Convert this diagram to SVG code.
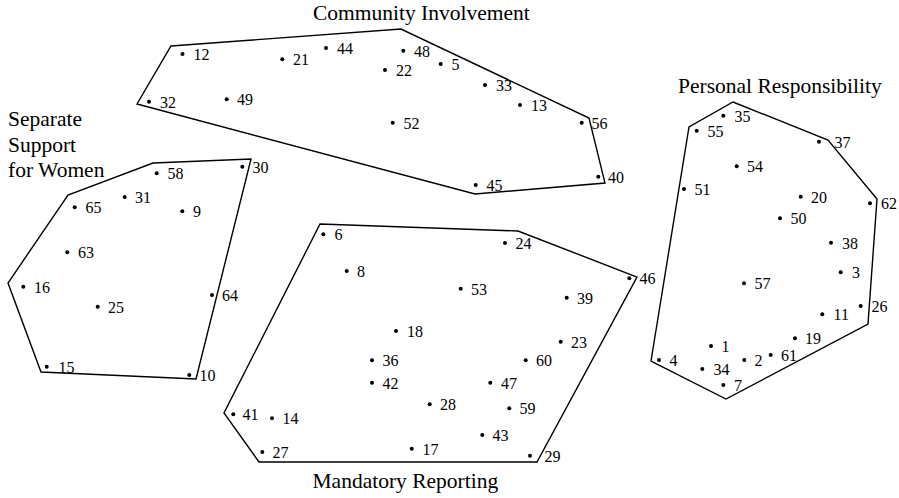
<svg xmlns="http://www.w3.org/2000/svg" width="899" height="498" viewBox="0 0 899 498">
<style>
.hull{fill:none;stroke:#000;stroke-width:1.4;stroke-linejoin:miter}
.d{fill:#000}
.l{font-family:"Liberation Serif","Times New Roman",serif;font-size:16px;fill:#000}
.t{font-family:"Liberation Serif","Times New Roman",serif;font-size:21.5px;fill:#000}
</style>
<rect width="899" height="498" fill="#fff"/>
<g id="community">
<polygon class="hull" points="171,46 401,29 589,118 605,183 475,194 137,104"/>
<text class="t" x="313" y="20">Community Involvement</text>
<g class="d"><circle cx="182.5" cy="54" r="2"/><circle cx="282.3" cy="59.3" r="2"/><circle cx="326" cy="48" r="2"/><circle cx="403.3" cy="50.7" r="2"/><circle cx="385" cy="70" r="2"/><circle cx="440.7" cy="64" r="2"/><circle cx="485" cy="85" r="2"/><circle cx="520" cy="105" r="2"/><circle cx="581.7" cy="122.7" r="2"/><circle cx="598.3" cy="176.7" r="2"/><circle cx="475.7" cy="185" r="2"/><circle cx="392.7" cy="122.7" r="2"/><circle cx="149" cy="101.7" r="2"/><circle cx="226.7" cy="99.3" r="2"/></g>
<text class="l" x="193.5" y="60">12</text><text class="l" x="293" y="65.3">21</text><text class="l" x="337" y="54">44</text><text class="l" x="414" y="56.7">48</text><text class="l" x="396" y="76">22</text><text class="l" x="451.5" y="70">5</text><text class="l" x="496" y="91">33</text><text class="l" x="531" y="111">13</text><text class="l" x="591.5" y="128.7">56</text><text class="l" x="608" y="182.7">40</text><text class="l" x="486.5" y="191">45</text><text class="l" x="403.5" y="128.7">52</text><text class="l" x="160" y="107.7">32</text><text class="l" x="237" y="105.3">49</text>
</g>
<g id="separate-support">
<polygon class="hull" points="153,163 251,159 196,379 41,372 8,283 68,195"/>
<text class="t" x="8" y="126">Separate</text>
<text class="t" x="8" y="151.5">Support</text>
<text class="t" x="8" y="177">for Women</text>
<g class="d"><circle cx="156.7" cy="173.3" r="2"/><circle cx="242.3" cy="166.7" r="2"/><circle cx="124.7" cy="197" r="2"/><circle cx="74.7" cy="207.3" r="2"/><circle cx="182.3" cy="211.3" r="2"/><circle cx="67.3" cy="252.3" r="2"/><circle cx="23.3" cy="286.7" r="2"/><circle cx="97.7" cy="306.7" r="2"/><circle cx="212" cy="295" r="2"/><circle cx="46.7" cy="366.7" r="2"/><circle cx="189.3" cy="375" r="2"/></g>
<text class="l" x="167.5" y="179.3">58</text><text class="l" x="252.5" y="172.7">30</text><text class="l" x="135" y="203">31</text><text class="l" x="85.5" y="213.3">65</text><text class="l" x="193" y="217.3">9</text><text class="l" x="78" y="258.3">63</text><text class="l" x="34" y="292.7">16</text><text class="l" x="108" y="312.7">25</text><text class="l" x="222" y="301">64</text><text class="l" x="58.5" y="372.7">15</text><text class="l" x="199.5" y="381">10</text>
</g>
<g id="mandatory-reporting">
<polygon class="hull" points="320,224 518,231 637,277 537,462 259,462 224,413"/>
<text class="t" x="312.5" y="488">Mandatory Reporting</text>
<g class="d"><circle cx="323.3" cy="234.3" r="2"/><circle cx="505" cy="243" r="2"/><circle cx="346.7" cy="271" r="2"/><circle cx="460.7" cy="288.7" r="2"/><circle cx="629.3" cy="278.3" r="2"/><circle cx="566.7" cy="297.7" r="2"/><circle cx="396" cy="331" r="2"/><circle cx="560.7" cy="341.7" r="2"/><circle cx="372" cy="360.3" r="2"/><circle cx="525.7" cy="360.3" r="2"/><circle cx="372" cy="382.7" r="2"/><circle cx="490.3" cy="382.7" r="2"/><circle cx="429.7" cy="404.3" r="2"/><circle cx="509.3" cy="408.3" r="2"/><circle cx="233.3" cy="414.3" r="2"/><circle cx="272" cy="418.3" r="2"/><circle cx="482.3" cy="435" r="2"/><circle cx="262.3" cy="452" r="2"/><circle cx="411.7" cy="448.7" r="2"/><circle cx="530" cy="455.7" r="2"/></g>
<text class="l" x="334.5" y="240.3">6</text><text class="l" x="515.5" y="249">24</text><text class="l" x="357" y="277">8</text><text class="l" x="471" y="294.7">53</text><text class="l" x="639.5" y="284.3">46</text><text class="l" x="577" y="303.7">39</text><text class="l" x="407" y="337">18</text><text class="l" x="571" y="347.7">23</text><text class="l" x="382.5" y="366.3">36</text><text class="l" x="536" y="366.3">60</text><text class="l" x="382.5" y="388.7">42</text><text class="l" x="501" y="388.7">47</text><text class="l" x="440" y="410.3">28</text><text class="l" x="519.5" y="414.3">59</text><text class="l" x="242.5" y="420.3">41</text><text class="l" x="282.5" y="424.3">14</text><text class="l" x="492.5" y="441">43</text><text class="l" x="272.5" y="458">27</text><text class="l" x="422.5" y="454.7">17</text><text class="l" x="544.5" y="461.7">29</text>
</g>
<g id="personal-responsibility">
<polygon class="hull" points="733,102 828,140 877,199 868,324 726,399 651,361 689,127"/>
<text class="t" x="678" y="93">Personal Responsibility</text>
<g class="d"><circle cx="723.3" cy="115.7" r="2"/><circle cx="696.7" cy="130.7" r="2"/><circle cx="819" cy="141.7" r="2"/><circle cx="736.7" cy="166.3" r="2"/><circle cx="684" cy="189" r="2"/><circle cx="800.7" cy="196.7" r="2"/><circle cx="870" cy="203.3" r="2"/><circle cx="780" cy="218.3" r="2"/><circle cx="831" cy="242.7" r="2"/><circle cx="840.7" cy="272.3" r="2"/><circle cx="744" cy="283.3" r="2"/><circle cx="860.7" cy="306" r="2"/><circle cx="822.3" cy="314.3" r="2"/><circle cx="795" cy="338.3" r="2"/><circle cx="711" cy="346" r="2"/><circle cx="744.3" cy="360" r="2"/><circle cx="770.7" cy="355" r="2"/><circle cx="659" cy="360" r="2"/><circle cx="702.3" cy="369" r="2"/><circle cx="723.3" cy="385" r="2"/></g>
<text class="l" x="734.5" y="121.7">35</text><text class="l" x="707.5" y="136.7">55</text><text class="l" x="834.5" y="147.7">37</text><text class="l" x="747" y="172.3">54</text><text class="l" x="694.5" y="195">51</text><text class="l" x="811" y="202.7">20</text><text class="l" x="881" y="209.3">62</text><text class="l" x="790.5" y="224.3">50</text><text class="l" x="842" y="248.7">38</text><text class="l" x="852" y="278.3">3</text><text class="l" x="754.5" y="289.3">57</text><text class="l" x="871.5" y="312">26</text><text class="l" x="833.5" y="320.3">11</text><text class="l" x="805" y="344.3">19</text><text class="l" x="721.5" y="352">1</text><text class="l" x="754.5" y="366">2</text><text class="l" x="781" y="361">61</text><text class="l" x="669.5" y="366">4</text><text class="l" x="713.5" y="375">34</text><text class="l" x="734" y="391">7</text>
</g>
<g id="connectors"/>
</svg>
